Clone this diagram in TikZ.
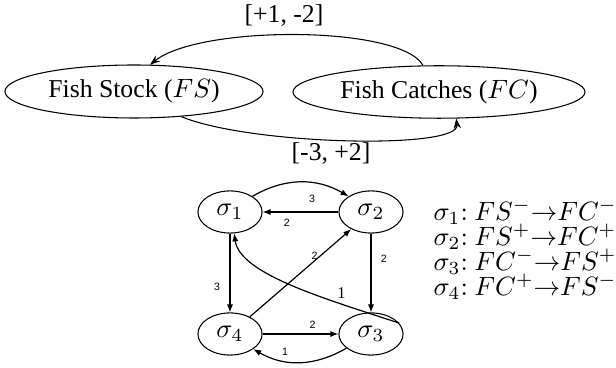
\documentclass[tikz,border=0pt]{standalone}
\usepackage[no-math]{fontspec}
\setmainfont{Liberation Serif}
\newfontfamily\lblsans{Liberation Sans}
\usetikzlibrary{shapes.geometric,arrows.meta}
\tikzset{
  big/.style={ellipse,draw,line width=0.4pt,inner sep=0pt,font=\fontsize{9.7}{12}\selectfont},
  signode/.style={ellipse,draw,line width=0.4pt,inner sep=0pt,minimum width=24.2pt,minimum height=15.9pt,font=\fontsize{10}{12}\selectfont},
  topedge/.style={line width=0.4pt,-{Stealth[length=3.8pt,width=2.8pt]}},
  sigedge/.style={line width=0.45pt,-{Latex[length=3pt,width=2.3pt]}},
  lbl/.style={font=\lblsans\fontsize{4}{5}\selectfont,inner sep=0.5pt},
  toplbl/.style={font=\fontsize{9.7}{12}\selectfont,inner sep=0pt},
  listlbl/.style={anchor=west,inner sep=0pt,font=\fontsize{9.9}{12}\selectfont}
}
\begin{document}
\begin{tikzpicture}[x=0.3774pt,y=-0.3774pt]
\useasboundingbox (0,0) rectangle (616,368);
% top graph
\node[big,minimum width=97.4pt,minimum height=20pt] (fs) at (134,91.5) {Fish Stock ($FS$)};
\node[big,minimum width=110.2pt,minimum height=19.8pt] (fc) at (439,92) {Fish Catches ($FC$)};
\draw[topedge] (fc.121) .. controls (400,25) and (200,25) .. (fs.59);
\draw[topedge] (fs.-28) .. controls (250,145) and (460,150) .. (fc.-57);
\node[toplbl] (l12) at (284,16) {[+1, -2]};
\node[toplbl] (l32) at (331,154) {[-3, +2]};
% sigma graph
\node[signode] (s1) at (230,212) {$\sigma_1$};
\node[signode] (s2) at (371,212) {$\sigma_2$};
\node[signode] (s3) at (371,334) {$\sigma_3$};
\node[signode] (s4) at (230,334) {$\sigma_4$};
\draw[sigedge] (s1.35) to[out=30,in=150] node[lbl,pos=0.62,below=4pt] {3} (s2.145);
\draw[sigedge] (s2) -- node[lbl,pos=0.68,below=2pt] {2} (s1);
\draw[sigedge] (s2) -- node[lbl,pos=0.32,right=3pt] {2} (s3);
\draw[sigedge] (s1) -- node[lbl,pos=0.68,left=3pt] {3} (s4);
\draw[sigedge] (s4) -- node[lbl,pos=0.7,left=0.5pt] {2} (s2);
\draw[sigedge] (s4) -- node[lbl,pos=0.66,above=1.5pt] {2} (s3);
\draw[sigedge] (s3.-150) to[out=-150,in=-30] node[lbl,pos=0.66,above=1.5pt] {1} (s4.-33);
\draw[sigedge] (s3.21) .. controls (330,300) and (240,275) .. node[pos=0.3,above right=1pt,inner sep=0pt,font=\fontsize{6.2}{7}\selectfont] {1} (s1.-79);
% legend
\node[listlbl] (t1) at (433,212) {$\sigma_1{:}\ FS^-{\rightarrow}FC^-$};
\node[listlbl] (t2) at (433,237) {$\sigma_2{:}\ FS^+{\rightarrow}FC^+$};
\node[listlbl] (t3) at (433,262) {$\sigma_3{:}\ FC^-{\rightarrow}FS^+$};
\node[listlbl] (t4) at (433,287) {$\sigma_4{:}\ FC^+{\rightarrow}FS^-$};
\end{tikzpicture}
\end{document}
